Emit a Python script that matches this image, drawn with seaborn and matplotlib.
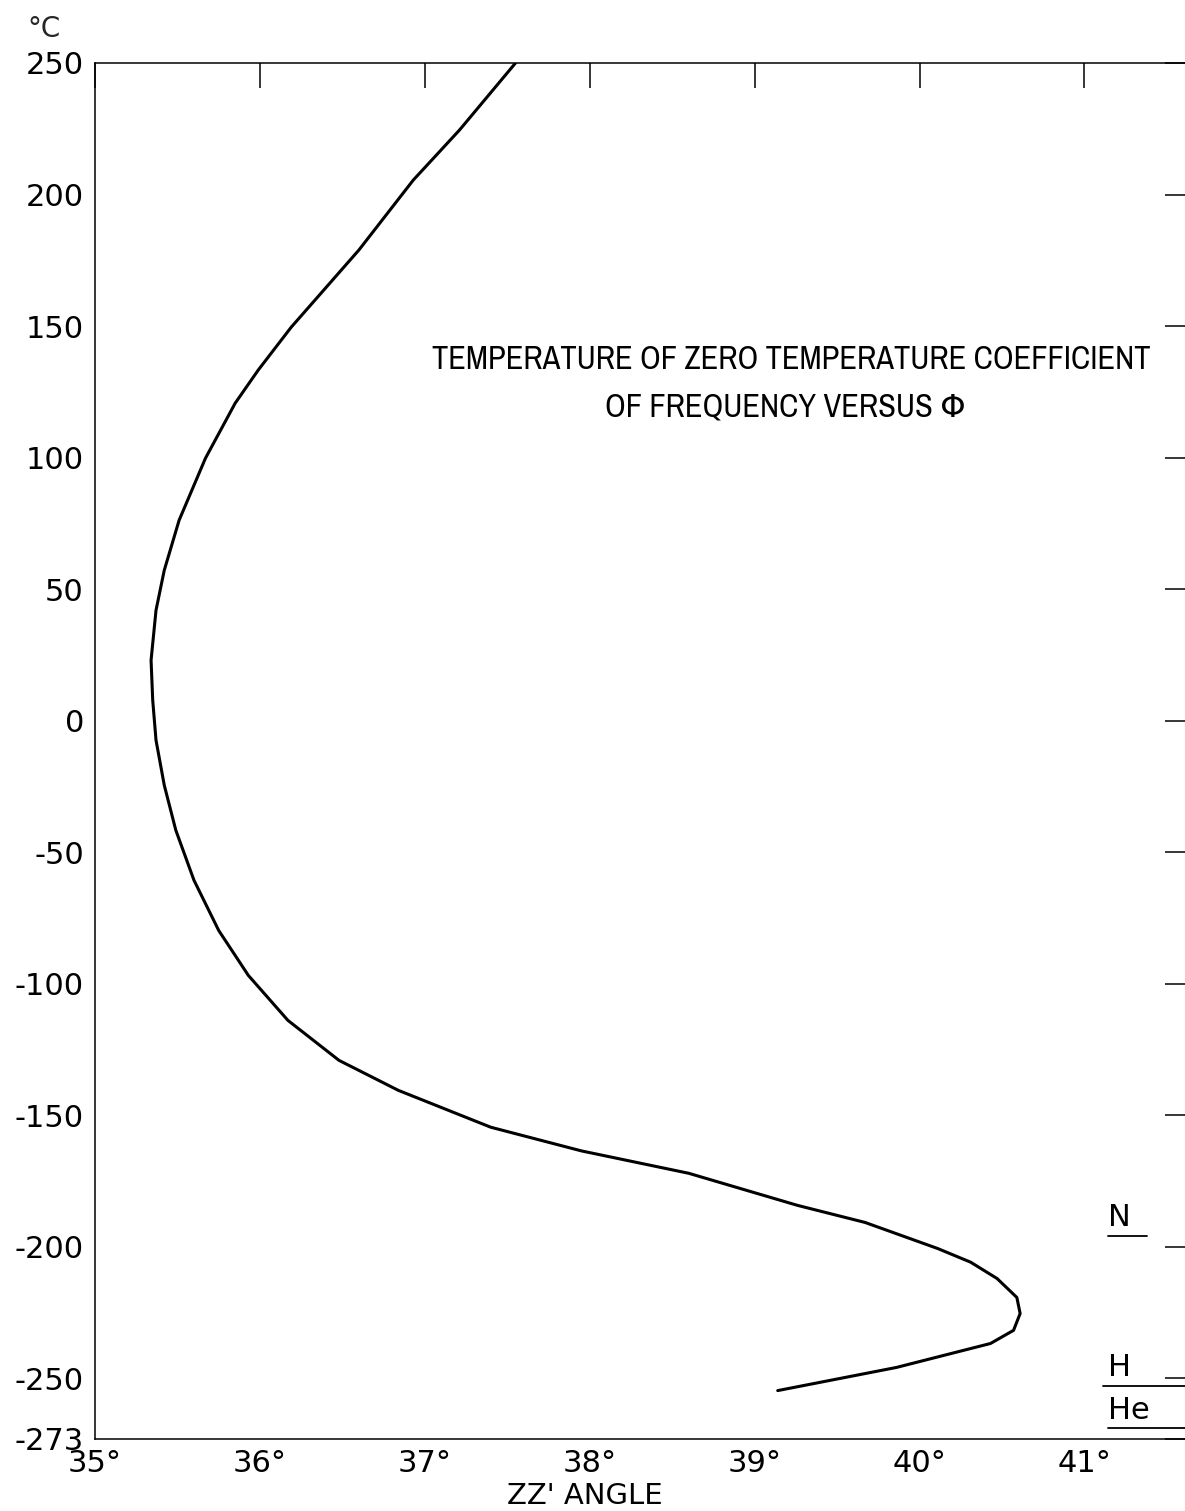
import matplotlib
matplotlib.use("Agg")
import matplotlib.pyplot as plt
from matplotlib import font_manager
import seaborn as sns
import pandas as pd

# ZZ' angle (degrees) vs temperature of zero temperature coefficient (deg C),
# read off the reference curve from the top end down to the low-temperature end
angle = [37.55, 37.21, 36.93, 36.60, 36.19, 35.99, 35.85, 35.67, 35.51, 35.42,
         35.37, 35.34, 35.35, 35.37, 35.42, 35.49, 35.60, 35.75, 35.93, 36.17,
         36.48, 36.84, 37.40, 37.95, 38.60, 39.26, 39.67, 40.11, 40.31, 40.47,
         40.59, 40.61, 40.57, 40.43, 39.86, 39.14]
temp = [250, 224.5, 205.5, 178.9, 149.6, 133.3, 120.7, 99.8, 76.2, 57.2,
        42.0, 23.0, 7.8, -7.4, -24.5, -41.6, -60.6, -79.7, -96.8, -113.9,
        -129.1, -140.5, -154.5, -163.5, -172.0, -184.2, -190.7, -200.6, -205.8, -212.0,
        -219.2, -225.3, -231.7, -236.7, -245.8, -254.6]

# boiling points marked at the right edge
gases = ["N", "H", "He"]
boiling = [-196, -253, -269]

x_ticks = [35, 36, 37, 38, 39, 40, 41]
y_ticks = [250, 200, 150, 100, 50, 0, -50, -100, -150, -200, -250, -273]

title_lines = ["TEMPERATURE OF ZERO TEMPERATURE COEFFICIENT",
               "OF FREQUENCY VERSUS Φ"]

df = pd.DataFrame({"angle": angle, "temp": temp})

sns.set_style("white")
plt.rcParams["font.family"] = ["DejaVu Sans"]

# the title is lettered in a narrow face: use a condensed font if one is installed
fonts = font_manager.fontManager.ttflist
narrow = [f.name for f in fonts if "Condensed" in f.name or "Narrow" in f.name]
dejavu_cond = any(f.name == "DejaVu Sans" and str(f.stretch) in ("condensed", "semi-condensed")
                  for f in fonts)
title_kw = {}
if narrow:
    title_kw["family"] = [narrow[0], "DejaVu Sans"]
elif dejavu_cond:
    title_kw["family"] = ["DejaVu Sans"]
    title_kw["fontstretch"] = "condensed"
else:
    title_kw["family"] = ["Roboto", "DejaVu Sans"]

fig = plt.figure(figsize=(11.85, 15.11), dpi=100)
ax = fig.add_axes([95 / 1185, 1 - 1439 / 1511, 1095 / 1185, 1376 / 1511])

sns.lineplot(data=df, x="angle", y="temp", sort=False, estimator=None,
             color="black", linewidth=2.2, ax=ax)

ax.set_xlim(35, 41.64)
ax.set_ylim(-273, 250)

ax.set_xticks(x_ticks)
ax.set_xticklabels([f"{v}°" for v in x_ticks])
ax.set_yticks(y_ticks)
ax.set_yticklabels([str(v) for v in y_ticks])

ax.tick_params(axis="both", direction="in", length=18, width=1.1,
               top=True, right=True, labelsize=22, colors="black")
ax.tick_params(axis="x", pad=7)
ax.tick_params(axis="y", pad=8)

for side in ["left", "top", "bottom", "right"]:
    ax.spines[side].set_color("black")
    ax.spines[side].set_linewidth(1.1)

ax.set_ylabel("")
ax.set_xlabel("ZZ' ANGLE", fontsize=21, color="black")
ax.xaxis.set_label_coords((585 - 95) / 1095, -0.031)

# gas boiling point marks
starts = [41.14, 41.11, 41.14]
ends = [41.38, 41.7, 41.7]
for name, b, x0, x1 in zip(gases, boiling, starts, ends):
    ax.plot([x0, x1], [b, b], color="black", linewidth=1.3, clip_on=False)
    ax.text(41.145, b + 1.5, name, fontsize=22, ha="left", va="bottom", color="black")

fig.text(44 / 1185, 1 - 29 / 1511, "°C", fontsize=20, ha="center", va="center")

t1 = fig.text(791 / 1185, 1 - 360 / 1511, title_lines[0], fontsize=25, ha="center",
              va="center", color="black", **title_kw)
t2 = fig.text(785 / 1185, 1 - 408 / 1511, title_lines[1], fontsize=25, ha="center",
              va="center", color="black", **title_kw)

# fit the first title line to the width it has in the reference (about 717 px)
fig.canvas.draw()
w = t1.get_window_extent().width
size = 25 * 717 / w
t1.set_fontsize(size)
t2.set_fontsize(size)

fig.savefig("out.png", dpi=100)
